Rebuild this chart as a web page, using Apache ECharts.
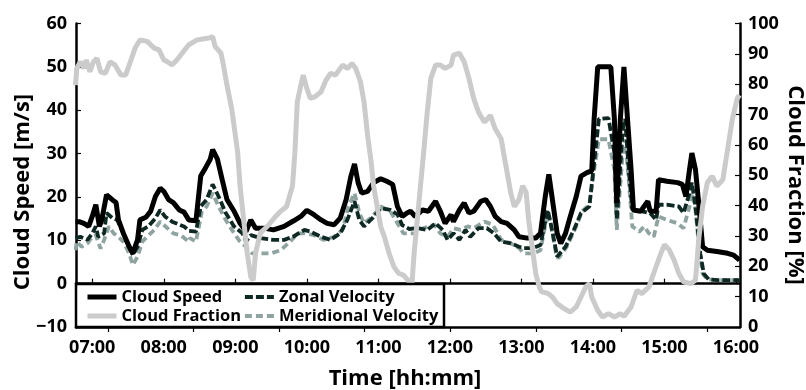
<!DOCTYPE html>
<html><head><meta charset="utf-8">
<script src="https://cdn.jsdelivr.net/npm/echarts@6/dist/echarts.min.js"></script>
<style>html,body{margin:0;padding:0;background:#fff}#c{width:806px;height:390px}</style>
</head><body><div id="c"></div>
<script>
// ---- data (time "HH:MM", value) ----
const cloudSpeed = [["06:46",14.3],["06:49",14.3],["06:53",13.9],["06:57",13.2],["07:00",15.5],["07:03",18.2],["07:06",13.2],["07:08",14.7],["07:12",20.5],["07:17",19.3],["07:20",18.7],["07:22",14.7],["07:26",11.7],["07:31",8.5],["07:34",7.0],["07:38",10.1],["07:40",14.7],["07:45",15.3],["07:49",16.7],["07:53",20.1],["07:57",22.0],["08:00",21.3],["08:04",19.4],["08:08",18.7],["08:13",17.0],["08:17",16.5],["08:21",14.7],["08:27",14.5],["08:31",24.8],["08:35",26.7],["08:39",28.7],["08:41",30.9],["08:45",28.7],["08:49",24.0],["08:53",19.4],["08:59",16.7],["09:04",13.9],["09:09",12.0],["09:13",14.7],["09:17",12.8],["09:24",12.8],["09:32",12.4],["09:41",13.2],["09:49",14.5],["09:55",15.5],["10:00",16.9],["10:06",15.9],["10:12",14.7],["10:17",13.9],["10:23",13.6],["10:28",15.1],["10:33",19.4],["10:37",24.8],["10:40",27.6],["10:43",23.3],["10:46",20.9],["10:51",21.3],["10:56",23.3],["11:02",24.2],["11:07",23.6],["11:12",22.9],["11:16",17.8],["11:20",15.5],["11:24",16.3],["11:27",16.7],["11:31",15.5],["11:37",17.0],["11:42",16.7],["11:48",19.0],["11:52",16.7],["11:56",13.9],["12:01",15.9],["12:03",14.3],["12:08",17.0],["12:12",18.6],["12:16",16.3],["12:20",16.7],["12:26",19.0],["12:30",19.4],["12:34",17.8],["12:38",15.5],["12:43",14.3],["12:48",13.9],["12:54",12.4],["12:58",10.8],["13:05",10.5],["13:12",10.5],["13:16",11.6],["13:20",20.1],["13:23",25.2],["13:26",19.4],["13:30",11.6],["13:33",9.3],["13:37",11.6],["13:41",15.5],["13:46",20.1],["13:50",24.8],["13:55",25.6],["13:59",26.0],["14:01",38.0],["14:04",50.0],["14:15",50.0],["14:18",38.0],["14:20",18.6],["14:23",38.0],["14:26",50.0],["14:29",38.0],["14:32",26.3],["14:34",17.0],["14:40",16.7],["14:46",19.0],["14:48",16.7],["14:53",16.7],["14:55",24.0],["15:02",23.6],["15:11",23.3],["15:15",22.9],["15:18",20.1],["15:21",26.3],["15:23",30.1],["15:26",26.3],["15:29",17.8],["15:32",8.5],["15:36",7.7],["15:44",7.4],["15:53",7.0],["15:58",6.6],["16:03",5.4]];

const zonalVelocity = [["06:46",10.5],["06:50",10.8],["06:56",10.1],["07:00",11.6],["07:03",13.2],["07:05",10.8],["07:10",11.6],["07:12",16.3],["07:17",15.1],["07:21",14.7],["07:26",11.6],["07:31",8.5],["07:34",6.6],["07:38",8.5],["07:42",12.4],["07:47",13.2],["07:53",15.1],["07:57",17.0],["08:01",15.5],["08:07",14.3],["08:13",13.6],["08:17",13.2],["08:21",12.2],["08:27",12.0],["08:31",17.8],["08:36",19.4],["08:41",22.9],["08:46",20.1],["08:52",16.3],["08:59",13.2],["09:06",11.6],["09:09",9.7],["09:13",11.2],["09:21",10.5],["09:32",10.1],["09:41",10.1],["09:49",10.9],["09:53",11.6],["09:58",12.4],["10:03",12.0],["10:12",10.8],["10:20",10.1],["10:28",11.6],["10:34",14.7],["10:40",19.0],["10:44",14.7],["10:48",13.2],["10:55",15.1],["11:02",17.4],["11:10",17.0],["11:16",16.0],["11:20",13.5],["11:26",12.6],["11:33",12.8],["11:41",12.4],["11:48",13.9],["11:54",12.4],["11:58",10.1],["12:03",11.6],["12:08",10.1],["12:13",12.4],["12:17",10.8],["12:24",12.8],["12:31",12.8],["12:37",11.6],["12:43",9.7],["12:51",9.3],["12:58",8.5],["13:02",8.2],["13:10",8.2],["13:16",8.9],["13:22",17.0],["13:24",14.7],["13:29",7.7],["13:30",6.2],["13:37",8.5],["13:44",12.4],["13:50",16.3],["13:57",17.8],["14:01",27.9],["14:05",38.0],["14:13",38.2],["14:18",30.2],["14:20",14.7],["14:25",35.6],["14:27",38.0],["14:30",26.3],["14:33",17.0],["14:40",16.7],["14:48",16.3],["14:53",14.7],["14:55",18.2],["15:02",18.2],["15:12",17.8],["15:16",16.3],["15:21",20.9],["15:23",23.3],["15:26",17.8],["15:30",7.0],["15:33",2.3],["15:37",1.0],["15:45",0.8],["15:55",0.8],["16:03",0.8]];

const meridionalVelocity = [["06:46",7.7],["06:47",9.7],["06:51",8.5],["06:56",9.3],["07:00",10.8],["07:03",11.2],["07:07",8.1],["07:10",10.1],["07:14",13.2],["07:18",11.6],["07:22",10.8],["07:26",9.7],["07:31",7.0],["07:34",4.3],["07:38",6.2],["07:42",9.7],["07:46",10.8],["07:52",12.4],["07:57",14.3],["08:03",12.8],["08:08",11.6],["08:14",11.2],["08:21",9.7],["08:22",10.5],["08:27",9.7],["08:32",16.7],["08:36",17.8],["08:41",20.9],["08:46",17.8],["08:52",14.7],["08:59",11.6],["09:04",9.7],["09:09",8.5],["09:14",7.0],["09:21",7.0],["09:30",7.0],["09:38",7.7],["09:46",9.7],["09:49",10.6],["09:53",11.6],["09:58",11.6],["10:06",11.2],["10:14",10.1],["10:23",10.8],["10:30",12.4],["10:35",17.8],["10:40",20.9],["10:44",16.3],["10:48",13.9],["10:55",15.5],["11:02",17.8],["11:10",16.7],["11:16",13.9],["11:21",11.6],["11:30",11.6],["11:38",12.8],["11:47",13.6],["11:52",11.6],["11:58",10.8],["12:03",12.8],["12:09",12.4],["12:15",13.2],["12:20",12.8],["12:29",14.3],["12:36",13.6],["12:43",10.1],["12:51",9.3],["12:58",8.2],["13:02",7.0],["13:10",7.0],["13:16",7.7],["13:22",16.3],["13:25",13.2],["13:29",7.0],["13:31",5.8],["13:38",8.5],["13:46",13.2],["13:51",16.7],["13:57",18.2],["14:01",26.3],["14:05",33.3],["14:13",33.3],["14:18",26.3],["14:20",12.4],["14:25",30.2],["14:27",33.3],["14:30",24.0],["14:33",13.2],["14:39",12.0],["14:43",13.2],["14:47",11.6],["14:51",10.8],["14:55",15.5],["15:02",14.7],["15:11",13.9],["15:16",12.8],["15:21",17.8],["15:23",20.9],["15:26",17.0],["15:29",8.5],["15:32",2.3],["15:36",1.0],["15:45",0.8],["15:55",0.8],["16:03",0.8]];

const cloudFraction = [["06:46",79.7],["06:47",85.2],["06:50",87.4],["06:53",85.2],["06:55",88.0],["06:58",84.1],["07:01",87.4],["07:04",88.5],["07:07",84.1],["07:11",83.6],["07:15",87.4],["07:19",86.4],["07:24",83.0],["07:28",83.0],["07:32",87.4],["07:36",91.9],["07:40",94.6],["07:46",94.1],["07:52",91.9],["07:56",91.3],["08:00",88.0],["08:03",87.4],["08:07",86.4],["08:11",88.0],["08:17",91.0],["08:21",93.0],["08:28",94.6],["08:34",95.0],["08:38",95.2],["08:41",95.7],["08:43",92.5],["08:48",90.2],["08:50",86.4],["08:53",79.7],["08:57",71.9],["09:02",57.5],["09:04",46.5],["09:07",35.4],["09:10",24.3],["09:13",16.5],["09:15",15.4],["09:17",24.3],["09:21",31.0],["09:27",33.2],["09:34",36.5],["09:38",38.1],["09:43",39.7],["09:48",46.5],["09:50",57.5],["09:52",74.1],["09:55",79.7],["09:57",83.0],["10:00",78.6],["10:03",75.3],["10:07",75.9],["10:12",77.5],["10:16",81.3],["10:20",83.6],["10:24",83.0],["10:30",86.3],["10:34",85.2],["10:38",86.8],["10:41",85.2],["10:45",80.8],["10:48",74.1],["10:51",63.1],["10:54",54.2],["10:56",46.5],["10:59",39.7],["11:02",33.1],["11:05",29.8],["11:09",24.3],["11:13",19.9],["11:17",17.7],["11:21",17.1],["11:26",14.9],["11:28",13.1],["11:30",24.3],["11:34",40.9],["11:38",57.5],["11:41",70.8],["11:44",81.9],["11:48",86.3],["11:52",86.3],["11:56",85.2],["12:01",86.3],["12:03",89.6],["12:08",90.2],["12:12",87.4],["12:16",81.9],["12:20",75.3],["12:24",70.8],["12:29",67.5],["12:34",69.7],["12:38",65.3],["12:43",62.0],["12:45",57.5],["12:48",50.9],["12:51",44.3],["12:54",39.7],["12:58",42.0],["13:01",46.5],["13:04",44.3],["13:06",35.5],["13:09",26.5],["13:12",17.7],["13:15",13.2],["13:17",11.6],["13:22",11.1],["13:26",9.9],["13:30",7.7],["13:36",6.0],["13:41",4.9],["13:46",6.6],["13:50",9.9],["13:54",13.2],["13:57",14.3],["13:59",9.9],["14:04",5.5],["14:08",3.3],["14:13",4.4],["14:18",3.3],["14:23",4.4],["14:26",3.5],["14:32",6.6],["14:37",12.1],["14:41",11.0],["14:47",13.2],["14:51",17.7],["14:57",24.3],["15:00",27.1],["15:04",25.4],["15:08",22.1],["15:12",17.7],["15:16",14.9],["15:22",14.3],["15:26",15.4],["15:29",29.8],["15:32",39.8],["15:36",47.6],["15:40",49.7],["15:44",46.4],["15:49",48.6],["15:53",58.6],["15:57",68.6],["16:01",75.3],["16:03",76.4]];

const xTickHours = [7, 8, 9, 10, 11, 12, 13, 14, 15, 16];
const xTickLabels = ["07:00","08:00","09:00","10:00","11:00","12:00","13:00","14:00","15:00","16:00"];
const topTickHours = [7.221, 8.417, 9.613, 10.809, 12.005, 13.201, 14.397, 15.593];
const seriesNames = ["Cloud Speed", "Cloud Fraction", "Zonal Velocity", "Meridional Velocity"];

function toH(s){ const p = s.split(':'); return +p[0] + (+p[1])/60; }
function pts(arr){ return arr.map(d => [toH(d[0]), d[1]]); }

const FONT = "'Open Sans', 'DejaVu Sans', sans-serif";
const txt = {color:'#000', fontFamily:FONT, fontWeight:700};
const chart = echarts.init(document.getElementById('c'), null, {renderer:'canvas'});

const axisLineStyle = {show:true, lineStyle:{color:'#000', width:2.5}};
const tickStyle = {show:true, inside:true, length:5, lineStyle:{color:'#000', width:1.2}};

function legendAt(name, left, top, lw){
  return {data:[name], left:left, top:top, padding:0, itemWidth:29, itemHeight:14, itemGap:0,
    selectedMode:false, z:12, itemStyle:{opacity:0}, lineStyle:{width:lw},
    textStyle:Object.assign({fontSize:16.5, lineHeight:18}, txt)};
}

chart.setOption({
  animation:false,
  grid:{left:76, right:66, top:23.5, bottom:63, containLabel:false},
  legend:[
    legendAt(seriesNames[0], 85, 288, 5),
    legendAt(seriesNames[1], 85, 307, 5),
    legendAt(seriesNames[2], 243, 288, 3.8),
    legendAt(seriesNames[3], 243, 307, 3.8)
  ],
  xAxis:[
    {type:'value', position:'bottom', min:6.773, max:16.056,
     axisLine:axisLineStyle,
     axisTick:Object.assign({customValues:xTickHours}, tickStyle),
     axisLabel:Object.assign({customValues:xTickHours, fontSize:18, margin:12,
       formatter:v => { const i = xTickHours.indexOf(Math.round(v)); return i>=0 ? xTickLabels[i] : ''; }}, txt),
     splitLine:{show:false}},
    {type:'value', position:'top', min:6.773, max:16.056,
     axisLine:axisLineStyle,
     axisTick:Object.assign({customValues:topTickHours}, tickStyle),
     axisLabel:{show:false}, splitLine:{show:false}}
  ],
  yAxis:[
    {type:'value', position:'left', min:-10, max:60, interval:10,
     axisLine:axisLineStyle, axisTick:tickStyle,
     axisLabel:Object.assign({fontSize:18, margin:9, formatter:v => v<0 ? '\u2212'+Math.abs(v) : String(v)}, txt),
     splitLine:{show:false}},
    {type:'value', position:'right', min:0, max:100, interval:10,
     axisLine:axisLineStyle, axisTick:tickStyle,
     axisLabel:Object.assign({fontSize:18, margin:8}, txt),
     splitLine:{show:false}}
  ],
  series:[
    {name:seriesNames[3], type:'line', data:pts(meridionalVelocity), symbol:'none', z:2,
     color:'#8fa4a1', lineStyle:{color:'#8fa4a1', width:3.8, type:[7,4]}},
    {name:seriesNames[2], type:'line', data:pts(zonalVelocity), symbol:'none', z:3,
     color:'#0e2824', lineStyle:{color:'#0e2824', width:3.8, type:[8,3]}},
    {name:seriesNames[0], type:'line', data:pts(cloudSpeed), symbol:'none', z:4,
     color:'#000', lineStyle:{color:'#000', width:5},
     markLine:{silent:true, symbol:['none','none'], label:{show:false}, animation:false,
       lineStyle:{color:'#000', width:1.2, type:'solid'}, data:[{yAxis:0}]}},
    {name:seriesNames[1], type:'line', yAxisIndex:1, data:pts(cloudFraction), symbol:'none', z:5,
     color:'#cbcbcb', lineStyle:{color:'#cbcbcb', width:5}}
  ],
  graphic:[
    {type:'rect', z:10, shape:{x:76, y:284, width:368, height:43},
     style:{fill:'#fff', stroke:'#000', lineWidth:2.5}},
    {type:'text', z:10, x:23, y:192, rotation:Math.PI/2,
     style:{text:'Cloud Speed [m/s]', font:"700 22px 'Open Sans'", fill:'#000',
       align:'center', verticalAlign:'middle', textAlign:'center', textVerticalAlign:'middle'}},
    {type:'text', z:10, x:795, y:185, rotation:-Math.PI/2,
     style:{text:'Cloud Fraction [%]', font:"700 22px 'Open Sans'", fill:'#000',
       align:'center', verticalAlign:'middle', textAlign:'center', textVerticalAlign:'middle'}},
    {type:'text', z:10, x:405, y:379,
     style:{text:'Time [hh:mm]', font:"700 22px 'Open Sans'", fill:'#000',
       align:'center', verticalAlign:'middle', textAlign:'center', textVerticalAlign:'middle'}}
  ]
});
</script></body></html>
